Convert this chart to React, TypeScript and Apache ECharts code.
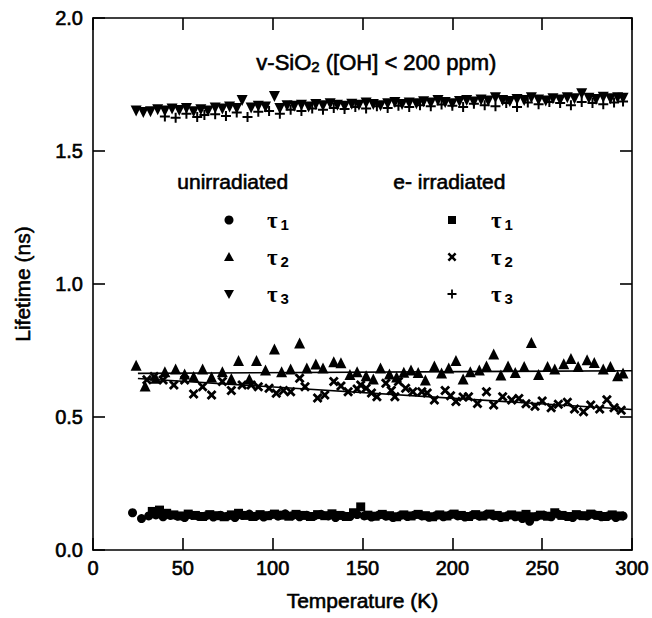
import React, { useEffect, useRef } from "react";
import * as echarts from "echarts";

// ---------------- data (Temperature K, Lifetime ns) ----------------
const xTickValues = [0, 50, 100, 150, 200, 250, 300];
const yTickLabels = ["0.0", "0.5", "1.0", "1.5", "2.0"];

const tau1Unirr: [number, number][] = [
  [22, 0.14], [27, 0.118], [31, 0.128], [35, 0.132], [39, 0.125], [43, 0.13], [47, 0.127], [51, 0.122],
  [55, 0.131], [59, 0.126], [63, 0.129], [67, 0.124], [71, 0.131], [75, 0.127], [79, 0.122], [83, 0.13],
  [87, 0.135], [91, 0.128], [95, 0.124], [99, 0.132], [103, 0.127], [107, 0.136], [111, 0.129], [115, 0.125],
  [119, 0.131], [123, 0.127], [127, 0.134], [131, 0.128], [135, 0.122], [139, 0.13], [143, 0.126], [147, 0.133],
  [151, 0.128], [155, 0.124], [159, 0.131], [163, 0.127], [167, 0.122], [171, 0.13], [175, 0.126], [179, 0.132],
  [183, 0.128], [187, 0.123], [191, 0.13], [195, 0.125], [199, 0.133], [203, 0.128], [207, 0.124], [211, 0.131],
  [215, 0.127], [219, 0.134], [223, 0.128], [227, 0.122], [231, 0.13], [235, 0.125], [239, 0.118], [243, 0.108],
  [247, 0.126], [251, 0.131], [255, 0.125], [259, 0.134], [263, 0.128], [267, 0.122], [271, 0.13], [275, 0.127],
  [279, 0.133], [283, 0.125], [287, 0.129], [291, 0.122], [295, 0.128],
];

const tau1Irr: [number, number][] = [
  [33, 0.145], [37, 0.15], [41, 0.138], [45, 0.132], [49, 0.128], [53, 0.135], [57, 0.13], [61, 0.126],
  [65, 0.133], [69, 0.129], [73, 0.125], [77, 0.132], [81, 0.138], [85, 0.13], [89, 0.126], [93, 0.133],
  [97, 0.129], [101, 0.135], [105, 0.131], [109, 0.127], [113, 0.134], [117, 0.13], [121, 0.126], [125, 0.133],
  [129, 0.129], [133, 0.136], [137, 0.13], [141, 0.126], [145, 0.14], [149, 0.162], [153, 0.131], [157, 0.127],
  [161, 0.134], [165, 0.129], [169, 0.125], [173, 0.132], [177, 0.128], [181, 0.134], [185, 0.129], [189, 0.125],
  [193, 0.132], [197, 0.128], [201, 0.135], [205, 0.13], [209, 0.126], [213, 0.133], [217, 0.128], [221, 0.135],
  [225, 0.13], [229, 0.125], [233, 0.132], [237, 0.128], [241, 0.134], [245, 0.125], [249, 0.131], [253, 0.127],
  [257, 0.14], [261, 0.13], [265, 0.126], [269, 0.133], [273, 0.129], [277, 0.135], [281, 0.13], [285, 0.126],
  [289, 0.132], [293, 0.128],
];

const tau2Unirr: [number, number][] = [
  [24, 0.695], [29, 0.617], [35, 0.646], [40, 0.67], [46, 0.68], [51, 0.662], [56, 0.652], [61, 0.68],
  [66, 0.65], [72, 0.67], [77, 0.645], [81, 0.712], [87, 0.643], [91, 0.712], [96, 0.677], [101, 0.756],
  [105, 0.67], [110, 0.68], [115, 0.778], [119, 0.684], [124, 0.699], [128, 0.684], [134, 0.708], [138, 0.704],
  [143, 0.66], [147, 0.67], [152, 0.655], [156, 0.643], [160, 0.684], [165, 0.662], [169, 0.65], [173, 0.668],
  [177, 0.677], [181, 0.667], [185, 0.639], [190, 0.692], [194, 0.665], [198, 0.684], [202, 0.712], [206, 0.643],
  [210, 0.67], [215, 0.677], [219, 0.692], [223, 0.737], [227, 0.658], [231, 0.692], [235, 0.667], [240, 0.69],
  [244, 0.78], [248, 0.66], [253, 0.69], [257, 0.68], [262, 0.7], [266, 0.72], [270, 0.69], [275, 0.715],
  [279, 0.705], [284, 0.68], [288, 0.69], [292, 0.655], [295, 0.665],
];

const tau2Irr: [number, number][] = [
  [30, 0.64], [34, 0.652], [39, 0.639], [45, 0.62], [51, 0.639], [56, 0.586], [61, 0.614], [66, 0.583],
  [72, 0.633], [77, 0.6], [83, 0.62], [88, 0.62], [92, 0.614], [98, 0.608], [102, 0.589], [106, 0.6],
  [110, 0.595], [115, 0.646], [118, 0.614], [125, 0.571], [129, 0.583], [134, 0.633], [138, 0.617], [142, 0.595],
  [147, 0.605], [149, 0.62], [152, 0.608], [155, 0.59], [158, 0.576], [163, 0.627], [166, 0.6], [168, 0.576],
  [170, 0.633], [174, 0.608], [178, 0.595], [183, 0.595], [186, 0.59], [190, 0.564], [196, 0.6], [199, 0.58],
  [202, 0.558], [206, 0.575], [209, 0.576], [214, 0.551], [219, 0.595], [223, 0.545], [228, 0.576], [233, 0.564],
  [237, 0.57], [241, 0.55], [246, 0.54], [250, 0.56], [255, 0.535], [259, 0.548], [264, 0.555], [268, 0.53],
  [273, 0.52], [277, 0.545], [282, 0.53], [286, 0.565], [290, 0.535], [294, 0.525],
];

const tau3Unirr: [number, number][] = [
  [24, 1.65], [28, 1.645], [32, 1.648], [36, 1.655], [40, 1.65], [44, 1.658], [48, 1.652], [52, 1.66],
  [56, 1.648], [60, 1.655], [64, 1.65], [68, 1.662], [72, 1.658], [76, 1.665], [80, 1.66], [83, 1.69],
  [88, 1.662], [92, 1.668], [96, 1.665], [101, 1.705], [104, 1.66], [108, 1.67], [112, 1.668], [116, 1.672],
  [120, 1.665], [124, 1.675], [128, 1.67], [132, 1.678], [136, 1.672], [140, 1.668], [144, 1.676], [148, 1.672],
  [152, 1.68], [156, 1.675], [160, 1.67], [164, 1.678], [168, 1.682], [172, 1.675], [176, 1.68], [180, 1.678],
  [184, 1.685], [188, 1.68], [192, 1.69], [196, 1.682], [200, 1.678], [204, 1.686], [208, 1.69], [212, 1.684],
  [216, 1.692], [220, 1.688], [224, 1.7], [228, 1.69], [232, 1.686], [236, 1.694], [240, 1.69], [244, 1.7],
  [248, 1.692], [252, 1.688], [256, 1.696], [260, 1.692], [264, 1.7], [268, 1.696], [272, 1.715], [276, 1.698],
  [280, 1.694], [284, 1.702], [288, 1.696], [292, 1.7], [295, 1.698],
];

const tau3Irr: [number, number][] = [
  [40, 1.63], [46, 1.625], [52, 1.64], [58, 1.628], [62, 1.635], [68, 1.638], [74, 1.632], [80, 1.645],
  [86, 1.628], [92, 1.648], [98, 1.65], [104, 1.64], [110, 1.655], [116, 1.65], [122, 1.66], [128, 1.655],
  [134, 1.662], [140, 1.658], [146, 1.665], [152, 1.66], [158, 1.668], [164, 1.662], [170, 1.67], [176, 1.665],
  [182, 1.672], [188, 1.668], [194, 1.675], [200, 1.67], [206, 1.665], [212, 1.678], [218, 1.672], [224, 1.668],
  [230, 1.68], [236, 1.665], [242, 1.682], [248, 1.676], [254, 1.684], [260, 1.68], [266, 1.672], [272, 1.684],
  [278, 1.68], [284, 1.676], [290, 1.682], [295, 1.686],
];

const fitUnirrTau2: [number, number][] = [[25, 0.664], [300, 0.674]];
const fitIrrTau2: [number, number][] = [[25, 0.645], [300, 0.528]];

// ---------------- styling ----------------
const FONT = "'Liberation Sans', Arial, Helvetica, sans-serif";
const SERIF = "'Liberation Serif', 'DejaVu Serif', serif";
const BLACK = "#000";
const HEAVY = 0.6; // slight stroke to mimic the heavy printed lettering

const crossPath =
  "path://M2,0 L5,3 L8,0 L10,2 L7,5 L10,8 L8,10 L5,7 L2,10 L0,8 L3,5 L0,2 Z";
const plusPath = "path://M4,0 L6,0 L6,4 L10,4 L10,6 L6,6 L6,10 L4,10 L4,6 L0,6 L0,4 L4,4 Z";

function crossPoints(cx: number, cy: number, s: number): number[][] {
  const raw = [[2, 0], [5, 3], [8, 0], [10, 2], [7, 5], [10, 8], [8, 10], [5, 7], [2, 10], [0, 8], [3, 5], [0, 2]];
  return raw.map(([x, y]) => [cx + ((x - 5) * s) / 10, cy + ((y - 5) * s) / 10]);
}
function plusPoints(cx: number, cy: number, s: number): number[][] {
  const raw = [[4, 0], [6, 0], [6, 4], [10, 4], [10, 6], [6, 6], [6, 10], [4, 10], [4, 6], [0, 6], [0, 4], [4, 4]];
  return raw.map(([x, y]) => [cx + ((x - 5) * s) / 10, cy + ((y - 5) * s) / 10]);
}

function tauText(sub: string, x: number, y: number) {
  return {
    type: "text",
    left: x,
    top: y,
    style: {
      text: `{t|τ}{s|${sub}}`,
      rich: {
        t: { fontSize: 23, fontFamily: SERIF, fontWeight: "bold", fill: BLACK, lineHeight: 24 },
        s: { fontSize: 15, fontFamily: FONT, fontWeight: "bold", fill: BLACK, lineHeight: 15, padding: [9, 0, 0, 3] },
      },
    },
  };
}

export default function App() {
  const ref = useRef<HTMLDivElement>(null);

  useEffect(() => {
    if (!ref.current) return;
    const chart = echarts.init(ref.current, undefined, { renderer: "svg" });

    const axisCommon = {
      type: "value" as const,
      axisLine: { show: true, onZero: false, lineStyle: { color: BLACK, width: 1.6 } },
      axisTick: { show: true, inside: true, length: 12, lineStyle: { color: BLACK, width: 1.6 } },
      splitLine: { show: false },
    };

    const labelStyle = {
      show: true,
      fontSize: 20,
      color: BLACK,
      fontFamily: FONT,
      textBorderColor: BLACK,
      textBorderWidth: HEAVY,
      showMinLabel: true,
      showMaxLabel: true,
    };

    const nameStyle = {
      fontSize: 21,
      color: BLACK,
      fontFamily: FONT,
      textBorderColor: BLACK,
      textBorderWidth: HEAVY,
    };

    const scatterBase = (name: string, data: [number, number][], symbol: string, size: number, rotate = 0) => ({
      name,
      type: "scatter" as const,
      data,
      symbol,
      symbolSize: size,
      symbolRotate: rotate,
      itemStyle: { color: BLACK, opacity: 1 },
      z: 3,
    });

    const headStyle = (text: string) => ({
      text,
      fontSize: 21,
      fontFamily: FONT,
      fill: BLACK,
      stroke: BLACK,
      lineWidth: HEAVY,
    });

    const option: any = {
      animation: false,
      backgroundColor: "#fff",
      textStyle: { fontFamily: FONT },
      grid: { left: 93, right: 17, top: 18, bottom: 68, containLabel: false },
      xAxis: [
        {
          ...axisCommon,
          min: 0,
          max: 300,
          interval: 50,
          position: "bottom",
          name: "Temperature (K)",
          nameLocation: "middle",
          nameGap: 40,
          nameTextStyle: nameStyle,
          axisLabel: {
            ...labelStyle,
            margin: 8,
            formatter: (v: number) => (xTickValues.includes(v) ? String(v) : ""),
          },
        },
        {
          ...axisCommon,
          min: 0,
          max: 300,
          interval: 50,
          position: "top",
          axisLabel: { show: false },
        },
      ],
      yAxis: [
        {
          ...axisCommon,
          min: 0,
          max: 2,
          interval: 0.5,
          position: "left",
          name: "Lifetime (ns)",
          nameLocation: "middle",
          nameRotate: 90,
          nameGap: 60,
          nameTextStyle: nameStyle,
          axisLabel: {
            ...labelStyle,
            margin: 10,
            formatter: (v: number) => yTickLabels[Math.round(v / 0.5)] ?? "",
          },
        },
        {
          ...axisCommon,
          min: 0,
          max: 2,
          interval: 0.5,
          position: "right",
          axisLabel: { show: false },
        },
      ],
      series: [
        scatterBase("unirradiated τ1", tau1Unirr, "circle", 9),
        scatterBase("e- irradiated τ1", tau1Irr, "rect", 9),
        scatterBase("unirradiated τ2", tau2Unirr, "triangle", 11),
        scatterBase("e- irradiated τ2", tau2Irr, crossPath, 10),
        scatterBase("unirradiated τ3", tau3Unirr, "triangle", 11, 180),
        scatterBase("e- irradiated τ3", tau3Irr, plusPath, 10),
        {
          name: "fit unirradiated τ2",
          type: "line",
          data: fitUnirrTau2,
          symbol: "none",
          lineStyle: { color: BLACK, width: 1.6 },
          z: 2,
        },
        {
          name: "fit e- irradiated τ2",
          type: "line",
          data: fitIrrTau2,
          symbol: "none",
          lineStyle: { color: BLACK, width: 1.6 },
          z: 2,
        },
      ],
      graphic: [
        {
          type: "text",
          left: 256,
          top: 50,
          style: {
            text: "{a|v-SiO}{b|2}{a| ([OH] < 200 ppm)}",
            rich: {
              a: { fontSize: 22, fontFamily: FONT, fill: BLACK, lineHeight: 26, stroke: BLACK, lineWidth: HEAVY },
              b: { fontSize: 15, fontFamily: FONT, fill: BLACK, lineHeight: 15, padding: [9, 0, 0, 0], stroke: BLACK, lineWidth: HEAVY },
            },
          },
        },
        { type: "text", left: 177, top: 171, style: headStyle("unirradiated") },
        { type: "text", left: 393, top: 171, style: headStyle("e- irradiated") },
        // unirradiated legend symbols
        { type: "circle", shape: { cx: 229, cy: 220, r: 4.5 }, style: { fill: BLACK } },
        {
          type: "polygon",
          shape: { points: [[229, 252], [234, 261], [224, 261]] },
          style: { fill: BLACK },
        },
        {
          type: "polygon",
          shape: { points: [[224, 290], [234, 290], [229, 299]] },
          style: { fill: BLACK },
        },
        // e- irradiated legend symbols
        { type: "rect", shape: { x: 448, y: 216, width: 8, height: 8 }, style: { fill: BLACK } },
        { type: "polygon", shape: { points: crossPoints(452, 257, 9) }, style: { fill: BLACK } },
        { type: "polygon", shape: { points: plusPoints(452, 294, 9) }, style: { fill: BLACK } },
        tauText("1", 267, 208),
        tauText("2", 267, 245),
        tauText("3", 267, 282),
        tauText("1", 491, 208),
        tauText("2", 491, 245),
        tauText("3", 491, 282),
      ],
    };

    chart.setOption(option);
    return () => chart.dispose();
  }, []);

  return (
    <div
      ref={ref}
      style={{ position: "fixed", left: 0, top: 0, width: 652, height: 618, background: "#fff" }}
    />
  );
}
